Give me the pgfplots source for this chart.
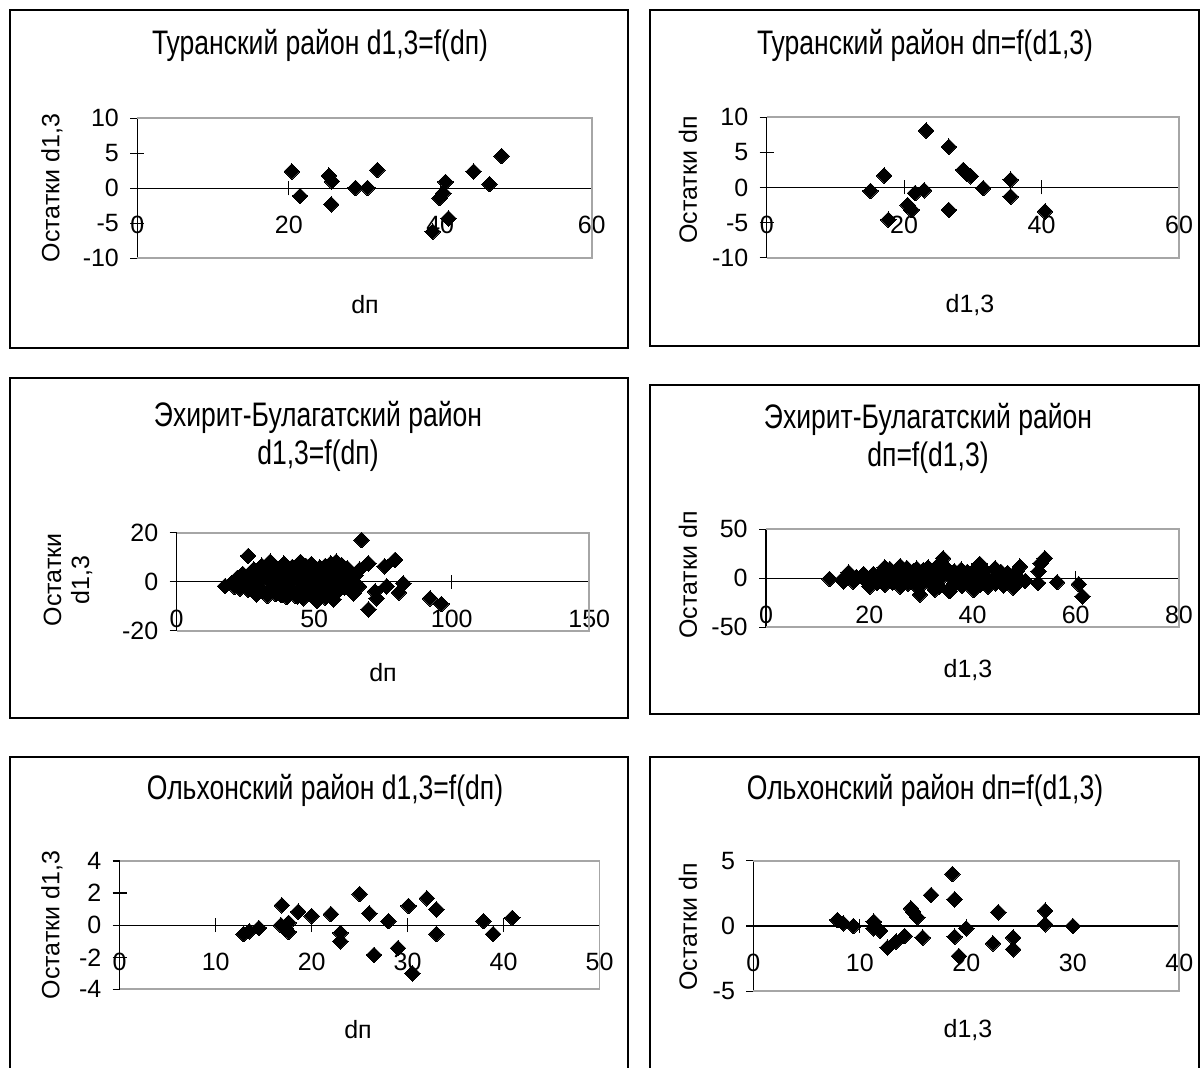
\documentclass[border=0pt]{standalone}
\usepackage{fontspec}
\setmainfont{Liberation Sans}
\newfontfamily\tfont[FakeStretch=0.78]{Liberation Sans}
\usepackage{pgfplots}
\pgfplotsset{compat=1.18}
\newcommand\ticksize{\fontsize{12.5}{14}\selectfont}
\newcommand\titlesize{\tfont\fontsize{17}{19}\selectfont}
\pgfplotsset{
 excel/.style={
  scale only axis, anchor=south west, clip=false,
  axis x line=middle, axis y line=left,
  axis line style={-, black, line width=0.6pt},
  tick align=center, major tick length=7pt,
  tick style={black, line width=0.6pt},
  hide obscured x ticks=false, hide obscured y ticks=false,
  /pgf/number format/assume math mode=true,
  tick label style={font=\ticksize, inner sep=0pt},
  xticklabel style={anchor=center, yshift=-15pt},
  yticklabel style={anchor=east, xshift=-5.5pt},
  scaled ticks=false,
 },
 dia/.style={only marks, black, mark=square*, mark size=2.75pt,
     mark options={rotate=45, fill=black, draw=black, line width=0pt}},
}
\newcommand\grayframe{\draw[gray!70, line width=0.9pt] (rel axis cs:0,1) -- (rel axis cs:1,1) -- (rel axis cs:1,0) -- (rel axis cs:0,0);}
\begin{document}
\begin{tikzpicture}
\useasboundingbox (0,0) rectangle (600pt,534pt);
% boxes
\begin{scope}[line width=0.6pt]
\draw (5pt,529pt) rectangle (314pt,360pt);
\draw (325pt,529pt) rectangle (599.5pt,361pt);
\draw (5pt,345pt) rectangle (314pt,175pt);
\draw (325pt,341.5pt) rectangle (599.5pt,177pt);
\draw (5pt,155.5pt) rectangle (314pt,-5pt);
\draw (325pt,155.5pt) rectangle (599.5pt,-5pt);
\end{scope}
% titles
\node[font=\titlesize] at (160pt,511.5pt) {Туранский район d1,3=f(dп)};
\node[font=\titlesize] at (462.5pt,511.5pt) {Туранский район dп=f(d1,3)};
\node[font=\titlesize, align=center] at (159pt,315.75pt) {Эхирит-Булагатский район\\d1,3=f(dп)};
\node[font=\titlesize, align=center] at (464pt,315pt) {Эхирит-Булагатский район\\dп=f(d1,3)};
\node[font=\titlesize] at (162.5pt,139pt) {Ольхонский район d1,3=f(dп)};
\node[font=\titlesize] at (462.5pt,139pt) {Ольхонский район dп=f(d1,3)};
% axis labels
\node[font=\ticksize, rotate=90] at (26pt,440pt) {Остатки d1,3};
\node[font=\ticksize] at (182.5pt,381.5pt) {dп};
\node[font=\ticksize, rotate=90] at (344pt,444pt) {Остатки dп};
\node[font=\ticksize] at (485pt,381.5pt) {d1,3};
\node[font=\ticksize, rotate=90, align=center] at (34pt,244pt) {Остатки\\d1,3};
\node[font=\ticksize] at (191.5pt,197.5pt) {dп};
\node[font=\ticksize, rotate=90] at (344pt,246.5pt) {Остатки dп};
\node[font=\ticksize] at (484pt,199pt) {d1,3};
\node[font=\ticksize, rotate=90] at (26pt,71.5pt) {Остатки d1,3};
\node[font=\ticksize] at (179pt,19pt) {dп};
\node[font=\ticksize, rotate=90] at (344pt,70.5pt) {Остатки dп};
\node[font=\ticksize] at (484pt,19pt) {d1,3};

% Panel 1
\begin{axis}[excel, at={(68.65pt,404.85pt)}, width=227.2pt, height=70pt,
  xmin=0, xmax=60, ymin=-10, ymax=10, xtick={0,20,40,60}, ytick={-10,-5,0,5,10}]
\grayframe
\addplot[dia] coordinates {(20.4,2.4) (21.5,-1.1) (25.3,1.8) (25.7,1.0) (25.6,-2.3)
 (28.8,0.05) (30.4,0.05) (31.7,2.6) (39.0,-6.2) (39.9,-1.4) (40.4,-0.7) (40.7,0.9)
 (41.1,-4.3) (44.4,2.4) (46.5,0.6) (48.1,4.6)};
\end{axis}

% Panel 2
\begin{axis}[excel, at={(383.35pt,405.15pt)}, width=206.15pt, height=70.2pt,
  xmin=0, xmax=60, ymin=-10, ymax=10, xtick={0,20,40,60}, ytick={-10,-5,0,5,10}]
\grayframe
\addplot[dia] coordinates {(15.1,-0.5) (17.1,1.7) (17.7,-4.6) (20.5,-2.5) (21.1,-3.2)
 (21.6,-0.8) (22.9,-0.4) (23.2,8.1) (26.5,5.8) (26.5,-3.2) (28.6,2.5) (29.1,2.0)
 (29.7,1.6) (31.5,-0.1) (35.5,1.1) (35.5,-1.3) (40.5,-3.4)};
\end{axis}

% Panel 3
\begin{axis}[excel, at={(88.35pt,218.65pt)}, width=206.3pt, height=49pt,
  xmin=0, xmax=150, ymin=-20, ymax=20, xtick={0,50,100,150}, ytick={-20,0,20}]
\grayframe
\addplot[dia] coordinates {
 (28,5) (31,6.5) (34,8.2) (36,5.5) (39,7.4) (42,6) (45,8.1) (47,6.4) (49,7.2) (52,5.8)
 (54,6.4) (56,7.5) (58,8.2) (60,6.8) (62,5.5) (33,4.8) (38,5.2) (44,4.9) (50,5.1) (57,5.3)
 (22,1.5) (24,3.2) (26,2.4) (29,3.8) (32,2.6) (35,3.4) (37,2.1) (40,3.9) (43,2.8) (46,3.5)
 (48,2.2) (51,3.7) (53,2.5) (55,3.9) (57,2.9) (59,4.1) (61,2.2) (63,3.6)
 (17.6,-1.8) (20,-0.5) (23,0.2) (25,-0.8) (27,0.5) (30,-0.3) (33,0.8) (36,-0.6) (38,0.4)
 (41,-0.9) (44,0.6) (47,-0.4) (50,0.9) (52,-0.7) (55,0.3) (58,-0.5) (60,0.7) (62,-0.9) (64,0.4)
 (21,-2.1) (23,-2.8) (26,-3.3) (28,-2.4) (31,-3.6) (34,-2.9) (37,-3.8) (39,-2.6) (42,-3.5)
 (45,-2.8) (48,-3.9) (50,-3.1) (53,-3.7) (56,-2.7) (59,-3.4) (61,-2.3)
 (29,-5.2) (33,-5.8) (36,-5.1) (40,-6.3) (43,-5.6) (46,-6.8) (49,-5.7) (51,-7.9) (54,-6.5)
 (57,-7.2) (55,-5.1) (38,-5.5) (44,-6.0) (52,-6.2)
 (26,10.5) (67.2,17) (69.7,7.5) (75.6,6.3) (79.4,8.9) (76.3,-1.9) (82.4,-0.7) (80.8,-4.4)
 (72.1,-4.0) (72.7,-6.8) (69.7,-11.3) (66.3,-2.0) (64.2,-4.8) (92.1,-6.8) (96.2,-9.1)
 (65,2.5) (66.5,5.0) (63,1.0)};
\end{axis}

% Panel 4
\begin{axis}[excel, at={(383pt,220.35pt)}, width=206.5pt, height=49pt,
  xmin=0, xmax=80, ymin=-50, ymax=50, xtick={0,20,40,60,80}, ytick={-50,0,50}]
\grayframe
\addplot[dia] coordinates {
 (16,5.8) (18.9,4.4) (20.8,4.4) (22.5,7.5) (24,9.5) (25.5,8.2) (27.3,10.5) (28.5,7.1)
 (29.2,9.8) (30.5,8.5) (31.4,10.9) (32.5,7.8) (34.3,20.4) (35.2,9.2) (36.5,7.1) (37.8,8.7)
 (39,6.5) (40.3,8.0) (41.4,14.6) (42.5,7.4) (44.4,10.2) (45.5,6.5) (46.8,5.4) (48.5,6.8)
 (49.2,11.9) (34.5,12.5) (33,11.5) (23,11.2) (26,12.3)
 (17.5,1.2) (19,-0.5) (20.5,1.8) (22,0.4) (23.5,2.5) (25,-0.8) (26.5,1.5) (28,0.3)
 (29.5,2.8) (31,-0.5) (32.5,1.9) (34,0.6) (35.5,2.4) (37,-0.9) (38.5,1.6) (40,0.2)
 (41.5,2.1) (43,-0.7) (44.5,1.3) (46,-1.2) (47.5,0.9) (49,-0.4) (50.2,-2.7)
 (15,-3.4) (16.9,-3.4) (19.8,-5.1) (20.1,-8.5) (21.5,-4.6) (23,-6.8) (24.5,-4.2) (26,-8.5)
 (27.5,-5.5) (29,-7.1) (29.8,-16.5) (30.5,-4.8) (32,-6.3) (32.7,-11.5) (33.5,-8.2)
 (35.3,-11.9) (35.6,-13.0) (36.5,-5.4) (38,-7.8) (39.5,-4.9) (40.2,-11.9) (41.5,-6.6)
 (43,-8.5) (44.5,-5.2) (46,-7.3) (47.9,-9.5) (48.5,-5.0)
 (12.3,-0.7) (14.7,-1.7) (53.2,15.3) (54.0,20.4) (52.8,7.2) (52.7,-4.8) (56.4,-4.0)
 (60.6,-6.0) (61.3,-18.5)};
\end{axis}

% Panel 5
\begin{axis}[excel, at={(59.85pt,39.3pt)}, width=239.95pt, height=64.2pt,
  xmin=0, xmax=50, ymin=-4, ymax=4, xtick={0,10,20,30,40,50}, ytick={-4,-2,0,2,4}]
\grayframe
\addplot[dia] coordinates {(12.9,-0.55) (13.5,-0.38) (14.5,-0.17) (16.9,1.24) (16.8,0.0)
 (17.3,-0.2) (17.6,0.15) (17.6,-0.42) (18.6,0.84) (20.0,0.57) (22.0,0.69) (23.0,-0.48)
 (23.0,-1.0) (25.0,1.94) (26.0,0.74) (26.5,-1.85) (28.0,0.25) (29.0,-1.43) (30.1,1.2)
 (30.5,-3.0) (32.0,1.68) (33.0,0.99) (33.0,-0.55) (37.9,0.25) (38.9,-0.55) (40.9,0.46)};
\end{axis}

% Panel 6
\begin{axis}[excel, at={(376.65pt,38.35pt)}, width=213pt, height=65.3pt,
  xmin=0, xmax=40, ymin=-5, ymax=5, xtick={0,10,20,30,40}, ytick={-5,0,5}]
\grayframe
\addplot[dia] coordinates {(7.9,0.46) (8.45,0.2) (9.4,0.0) (11.3,0.33) (11.3,-0.18)
 (11.9,-0.36) (12.6,-1.66) (13.4,-1.2) (14.2,-0.77) (14.8,1.35) (15.0,1.1) (15.4,0.66)
 (15.9,-0.89) (16.7,2.37) (18.7,3.98) (18.9,2.04) (18.9,-0.82) (19.3,-2.3) (20.0,-0.18)
 (22.5,-1.33) (23.0,1.05) (24.4,-0.89) (24.4,-1.79) (27.4,1.17) (27.4,0.13) (30.0,0.0)};
\end{axis}
\end{tikzpicture}
\end{document}
